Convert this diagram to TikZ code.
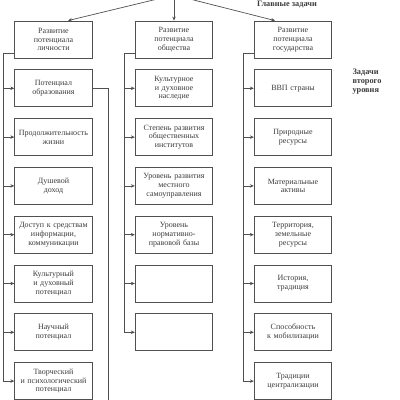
\documentclass[tikz,border=0pt]{standalone}
\usepackage{fontspec}
\setmainfont{Liberation Serif}
\usepackage{tikz}
\usetikzlibrary{arrows.meta,positioning}
\definecolor{ZdLine}{HTML}{505050}
\definecolor{ZdText}{HTML}{3C3C3C}
\begin{document}
\begin{tikzpicture}[x=1pt,y=-1pt,
        node distance=11pt,
        box/.style={draw=ZdLine,line width=0.8pt,text width=75.5pt,minimum height=37pt,inner sep=1pt,align=center,text=ZdText,font=\fontsize{8}{8.8}\selectfont},
        lbl/.style={align=left,text=ZdText,font=\fontsize{8.3}{9}\selectfont\bfseries},
        ln/.style={draw=ZdLine,line width=0.7pt},
        arr/.style={ln,-{Stealth[length=4pt,width=3.5pt]}}
      ]
        \useasboundingbox (0,0) rectangle (400,400);
        \coordinate (src) at (174,-5);
        \coordinate (lo) at (108,410);
        \node[lbl] (gz) at (287,4) {Главные задачи};
        \node[lbl,anchor=west] (vz) at (349,82) {Задачи\\второго\\уровня};
        % personality
        \node[box] (l1) at (53.5,39.5) {Развитие\\потенциала\\личности};
        \node[box,below=of l1] (l2) {Потенциал\\образования};
        \node[box,below=of l2] (l3) {Продолжительность\\жизни};
        \node[box,below=of l3] (l4) {Душевой\\доход};
        \node[box,below=of l4] (l5) {Доступ к средствам\\информации,\\коммуникации};
        \node[box,below=of l5] (l6) {Культурный\\и духовный\\потенциал};
        \node[box,below=of l6] (l7) {Научный\\потенциал};
        \node[box,below=of l7] (l8) {Творческий\\и психологический\\потенциал};
        % society
        \node[box] (m1) at (174,39.5) {Развитие\\потенциала\\общества};
        \node[box,below=of m1] (m2) {Культурное\\и духовное\\наследие};
        \node[box,below=of m2] (m3) {Степень развития\\общественных\\институтов};
        \node[box,below=of m3] (m4) {Уровень развития\\местного\\самоуправления};
        \node[box,below=of m4] (m5) {Уровень\\нормативно-\\правовой базы};
        \node[box,below=of m5] (m6) {};
        \node[box,below=of m6] (m7) {};
        % state
        \node[box] (r1) at (293,39.5) {Развитие\\потенциала\\государства};
        \node[box,below=of r1] (r2) {ВВП страны};
        \node[box,below=of r2] (r3) {Природные\\ресурсы};
        \node[box,below=of r3] (r4) {Материальные\\активы};
        \node[box,below=of r4] (r5) {Территория,\\земельные\\ресурсы};
        \node[box,below=of r5] (r6) {История,\\традиция};
        \node[box,below=of r6] (r7) {Способность\\к мобилизации};
        \node[box,below=of r7] (r8) {Традиции\\централизации};
        % main tasks
        \draw[arr] (src)--([xshift=14.5pt]l1.north); \draw[arr] (src)--(m1.north); \draw[arr] (src)--([xshift=-18pt]r1.north);
        % trunks
        \draw[arr] ([yshift=5.5pt]l1.south west) -| ([xshift=-11pt]l8.west) -- (l8.west);
        \draw[arr] ([yshift=5.5pt]m1.south west) -| ([xshift=-11pt]m7.west) -- (m7.west);
        \draw[arr] ([yshift=5.5pt]r1.south west) -| ([xshift=-11pt]r8.west) -- (r8.west);
        \draw[arr] ([xshift=-11pt]l2.west)--(l2.west); \draw[arr] ([xshift=-11pt]l3.west)--(l3.west); \draw[arr] ([xshift=-11pt]l4.west)--(l4.west);
        \draw[arr] ([xshift=-11pt]l5.west)--(l5.west); \draw[arr] ([xshift=-11pt]l6.west)--(l6.west); \draw[arr] ([xshift=-11pt]l7.west)--(l7.west);
        \draw[arr] ([xshift=-11pt]m2.west)--(m2.west); \draw[arr] ([xshift=-11pt]m3.west)--(m3.west); \draw[arr] ([xshift=-11pt]m4.west)--(m4.west);
        \draw[arr] ([xshift=-11pt]m5.west)--(m5.west); \draw[arr] ([xshift=-11pt]m6.west)--(m6.west);
        \draw[arr] ([xshift=-11pt]r2.west)--(r2.west); \draw[arr] ([xshift=-11pt]r3.west)--(r3.west); \draw[arr] ([xshift=-11pt]r4.west)--(r4.west);
        \draw[arr] ([xshift=-11pt]r5.west)--(r5.west); \draw[arr] ([xshift=-11pt]r6.west)--(r6.west); \draw[arr] ([xshift=-11pt]r7.west)--(r7.west);
        % education line
        \draw[ln] (l2.east) -| (lo);
      \end{tikzpicture}
\end{document}
